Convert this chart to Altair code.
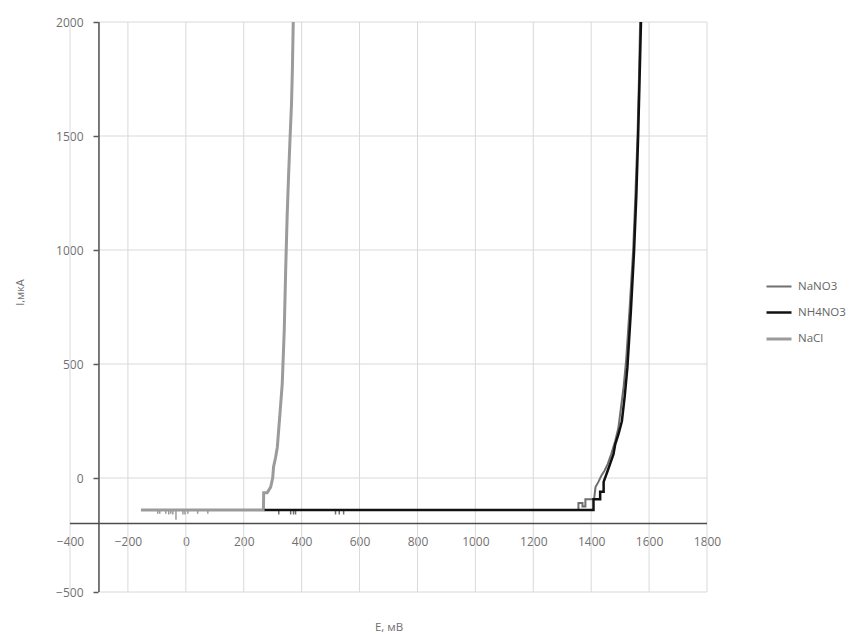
import altair as alt
import pandas as pd

# ---------------- data ----------------
series_names = ["NaNO3", "NH4NO3", "NaCl"]
series_colors = ["#6f6f6f", "#111111", "#9b9b9b"]
series_widths = [2.0, 3.0, 2.0]

nacl_E = [-155, 268, 269, 281, 293, 300, 303, 310, 316, 325, 333, 340, 345, 350, 355, 360, 365, 368, 371]
nacl_I = [-140, -140, -65, -65, -40, 0, 48, 90, 135, 280, 413, 650, 919, 1150, 1330, 1491, 1640, 1789, 2000]

nano3_E = [272, 1356, 1356, 1370, 1370, 1380, 1380, 1410, 1415, 1425, 1435, 1446, 1457, 1469, 1483, 1494,
           1502, 1512, 1521, 1533, 1545, 1553, 1560, 1565, 1569]
nano3_I = [-140, -140, -110, -110, -125, -125, -93, -93, -40, -17, 10, 32, 61, 104, 162, 220,
           300, 400, 520, 750, 1000, 1250, 1500, 1750, 2000]

nh4no3_E = [272, 1408, 1408, 1431, 1431, 1443, 1443, 1457, 1465, 1477, 1483, 1494, 1506, 1516, 1525,
            1537, 1548, 1556, 1562, 1567, 1572]
nh4no3_I = [-140, -140, -93, -93, -60, -60, -17, 32, 61, 104, 148, 191, 249, 360, 484,
            730, 991, 1240, 1491, 1740, 2000]

# small downward noise spikes below the flat part
nacl_dip_E = [-97, -90, -69, -59, -52, -45, -34, -10, -3, 7, 41, 76]
nacl_dip_I = [-157, -157, -157, -160, -157, -160, -183, -160, -160, -157, -157, -157]
nano3_dip_E = [321, 362, 372, 379, 517, 530, 545]
nano3_dip_I = [-160, -160, -160, -160, -160, -160, -160]
flat_level = -140

x_ticks = [-400, -200, 0, 200, 400, 600, 800, 1000, 1200, 1400, 1600, 1800]
y_ticks = [-500, 0, 500, 1000, 1500, 2000]
x_cross = -300   # where the vertical axis crosses
y_cross = -200   # where the horizontal axis crosses

# ---------------- tables ----------------
rows = []
for name, E, I in [("NaNO3", nano3_E, nano3_I), ("NaCl", nacl_E, nacl_I), ("NH4NO3", nh4no3_E, nh4no3_I)]:
    for k, (e, i) in enumerate(zip(E, I)):
        rows.append({"series": name, "E": e, "I": i, "k": k})
df = pd.DataFrame(rows)

dips_nacl = pd.DataFrame({"E": nacl_dip_E, "I": [flat_level] * len(nacl_dip_E), "I2": nacl_dip_I})
dips_nano3 = pd.DataFrame({"E": nano3_dip_E, "I": [flat_level] * len(nano3_dip_E), "I2": nano3_dip_I})

vgrid = pd.DataFrame({"E": x_ticks, "I": [y_ticks[0]] * len(x_ticks), "I2": [y_ticks[-1]] * len(x_ticks)})
hgrid = pd.DataFrame({"E": [x_cross] * len(y_ticks), "E2": [x_ticks[-1]] * len(y_ticks), "I": y_ticks})
xaxis_line = pd.DataFrame({"E": [x_ticks[0]], "E2": [x_ticks[-1]], "I": [y_cross]})
yaxis_line = pd.DataFrame({"E": [x_cross], "I": [y_ticks[0]], "I2": [y_ticks[-1]]})

W, H = 637, 570
xs = alt.Scale(domain=[x_ticks[0], x_ticks[-1]], nice=False, zero=False)
ys = alt.Scale(domain=[y_ticks[0], y_ticks[-1]], nice=False, zero=False)

X_AXIS = alt.Axis(values=x_ticks, format="d", offset=-70, domain=False, grid=False, ticks=False, tickSize=0,
                  labelFlush=False, labelOverlap=False,
                  labelPadding=14, labelFontSize=12, labelColor="#707070", labelFont="Open Sans",
                  title="E, мВ", titleFont="Open Sans", titleFontSize=11.5, titleFontWeight="normal",
                  titleColor="#707070", titleY=105, titleBaseline="middle")
Y_AXIS = alt.Axis(values=y_ticks, format="d", offset=-28, domain=False, grid=False, ticks=True, tickSize=5,
                  labelFlush=False, labelOverlap=False,
                  tickColor="#595959", tickWidth=1.5, labelPadding=10, labelFontSize=12,
                  labelColor="#707070", labelFont="Open Sans",
                  title="I,мкА", titleFont="Open Sans", titleFontSize=11, titleFontWeight="normal",
                  titleColor="#707070", titleX=-78, titleY=270, titleAngle=-90,
                  titleBaseline="middle", titleAlign="center")

def X(f="E"):
    return alt.X(f + ":Q", scale=xs, axis=X_AXIS)

def Y(f="I"):
    return alt.Y(f + ":Q", scale=ys, axis=Y_AXIS)

grid_color = "#d9d9d9"
axis_color = "#4d4d4d"

l_vgrid = alt.Chart(vgrid).mark_rule(color=grid_color, strokeWidth=1).encode(x=X(), y=Y(), y2="I2:Q")
l_hgrid = alt.Chart(hgrid).mark_rule(color=grid_color, strokeWidth=1).encode(x=X(), x2="E2:Q", y=Y())
l_xaxis = alt.Chart(xaxis_line).mark_rule(color=axis_color, strokeWidth=1.5).encode(x=X(), x2="E2:Q", y=Y())
l_yaxis = alt.Chart(yaxis_line).mark_rule(color=axis_color, strokeWidth=1.5).encode(x=X(), y=Y(), y2="I2:Q")
l_dip1 = alt.Chart(dips_nacl).mark_rule(color=series_colors[2], strokeWidth=1.5).encode(x=X(), y=Y(), y2="I2:Q")
l_dip2 = alt.Chart(dips_nano3).mark_rule(color=series_colors[0], strokeWidth=1.5).encode(x=X(), y=Y(), y2="I2:Q")

LEG = alt.Legend(orient="none", legendX=695, legendY=251, symbolType="stroke", symbolSize=625,
                 labelFontSize=11.5, labelColor="#666666", labelFont="Open Sans", title=None,
                 labelOffset=5, rowPadding=6.5)

l_lines = alt.Chart(df).mark_line(strokeJoin="miter").encode(
    x=X(), y=Y(),
    color=alt.Color("series:N", scale=alt.Scale(domain=series_names, range=series_colors), legend=LEG),
    strokeWidth=alt.StrokeWidth("series:N", scale=alt.Scale(domain=series_names, range=series_widths), legend=LEG),
    order=alt.Order("k:Q"),
)

chart = alt.layer(l_vgrid, l_hgrid, l_dip1, l_dip2, l_xaxis, l_yaxis, l_lines).properties(
    width=W, height=H,
    autosize=alt.AutoSizeParams(type="none"),
    padding={"left": 62, "top": 14, "right": 140, "bottom": 40},
    background="white",
).configure_view(stroke=None)

chart.save("out.html", embed_options={"renderer": "svg", "actions": False})
